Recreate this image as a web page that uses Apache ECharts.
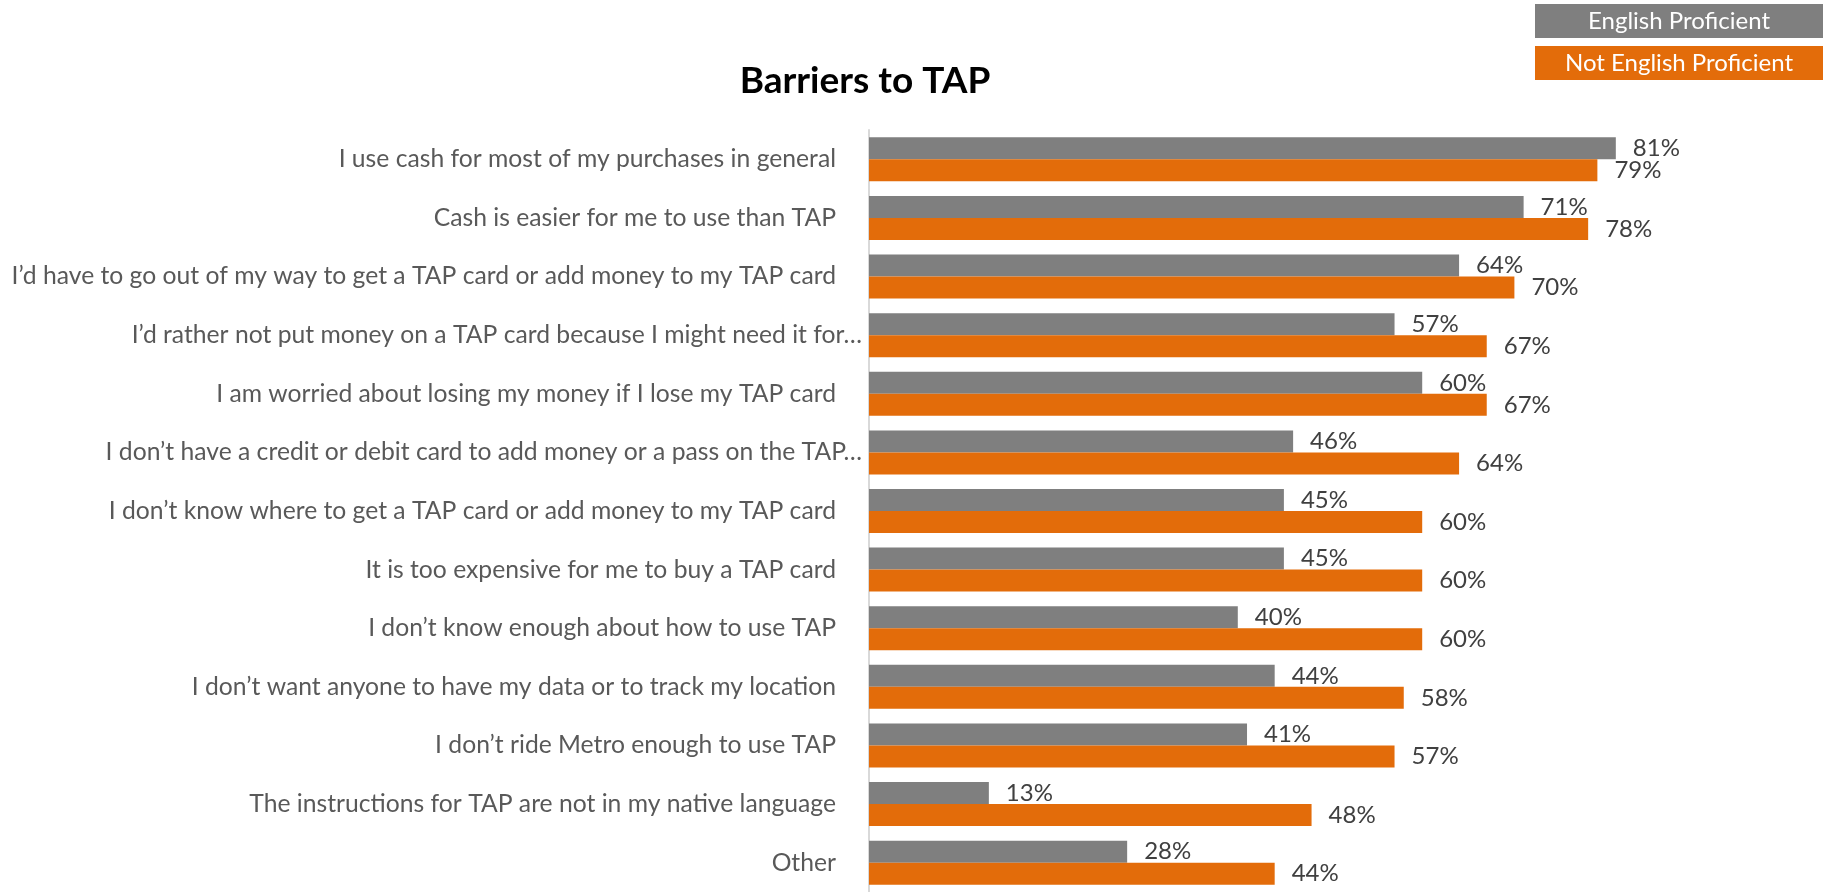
<!DOCTYPE html>
<html>
<head>
<meta charset="utf-8">
<title>Barriers to TAP</title>
<script src="https://cdn.jsdelivr.net/npm/echarts@6/dist/echarts.min.js"></script>
<style>
  html, body { margin: 0; padding: 0; background: #fff; }
  #main { width: 1826px; height: 892px; }
</style>
</head>
<body>
<div id="main"></div>
<script>
// barriers, top to bottom
var categories = [
  'I use cash for most of my purchases in general',
  'Cash is easier for me to use than TAP',
  'I\u2019d have to go out of my way to get a TAP card or add money to my TAP card',
  'I\u2019d rather not put money on a TAP card because I might need it for\u2026',
  'I am worried about losing my money if I lose my TAP card',
  'I don\u2019t have a credit or debit card to add money or a pass on the TAP\u2026',
  'I don\u2019t know where to get a TAP card or add money to my TAP card',
  'It is too expensive for me to buy a TAP card',
  'I don\u2019t know enough about how to use TAP',
  'I don\u2019t want anyone to have my data or to track my location',
  'I don\u2019t ride Metro enough to use TAP',
  'The instructions for TAP are not in my native language',
  'Other'
];
var seriesNames = ['English Proficient', 'Not English Proficient'];
var englishProficient = [81, 71, 64, 57, 60, 46, 45, 45, 40, 44, 41, 13, 28];
var notEnglishProficient = [79, 78, 70, 67, 67, 64, 60, 60, 60, 58, 57, 48, 44];

var GRAY = '#7f7f7f';
var ORANGE = '#e36c0a';
var FONT = 'Lato';

var chart = echarts.init(document.getElementById('main'));

function barLabel() {
  return {
    show: true,
    position: 'right',
    distance: 17,
    formatter: '{c}%',
    color: '#404040',
    fontFamily: FONT,
    fontSize: 24
  };
}

var option = {
  backgroundColor: '#ffffff',
  animation: false,
  title: {
    text: 'Barriers to TAP',
    left: 860,
    top: 58,
    textAlign: 'center',
    textStyle: { fontFamily: FONT, fontWeight: 'bold', fontSize: 37, color: '#000' }
  },
  legend: {
    data: seriesNames,
    orient: 'vertical',
    right: 3,
    top: 4,
    padding: 0,
    itemWidth: 0,
    itemHeight: 0,
    itemGap: 8,
    selectedMode: false,
    formatter: function (name) {
      return name === seriesNames[0] ? '{g|' + name + '}' : '{o|' + name + '}';
    },
    textStyle: {
      rich: {
        g: { width: 288, height: 34, lineHeight: 34, align: 'center', backgroundColor: GRAY,
             color: '#fff', fontFamily: FONT, fontSize: 24 },
        o: { width: 288, height: 34, lineHeight: 34, align: 'center', backgroundColor: ORANGE,
             color: '#fff', fontFamily: FONT, fontSize: 24 }
      }
    }
  },
  grid: { left: 869, top: 130, width: 922, height: 767 },
  xAxis: {
    type: 'value',
    min: 0,
    max: 100,
    show: false
  },
  yAxis: {
    type: 'category',
    data: categories,
    inverse: true,
    axisLine: { show: true, lineStyle: { color: '#d9d9d9', width: 2 } },
    axisTick: { show: false },
    axisLabel: {
      margin: 7,
      formatter: function (v) {
        // truncated labels sit closer to the axis
        return v.slice(-1) === '\u2026' ? '{t|' + v + '}' : '{n|' + v + '}';
      },
      rich: {
        n: { color: '#595959', fontFamily: FONT, fontSize: 24.7, padding: [0, 26, 0, 0] },
        t: { color: '#595959', fontFamily: FONT, fontSize: 24.7 }
      }
    }
  },
  series: [
    {
      name: seriesNames[0],
      type: 'bar',
      data: englishProficient,
      barWidth: 22,
      barGap: '0%',
      itemStyle: { color: GRAY },
      label: barLabel()
    },
    {
      name: seriesNames[1],
      type: 'bar',
      data: notEnglishProficient,
      barWidth: 22,
      itemStyle: { color: ORANGE },
      label: barLabel()
    }
  ]
};

chart.setOption(option);
</script>
</body>
</html>
